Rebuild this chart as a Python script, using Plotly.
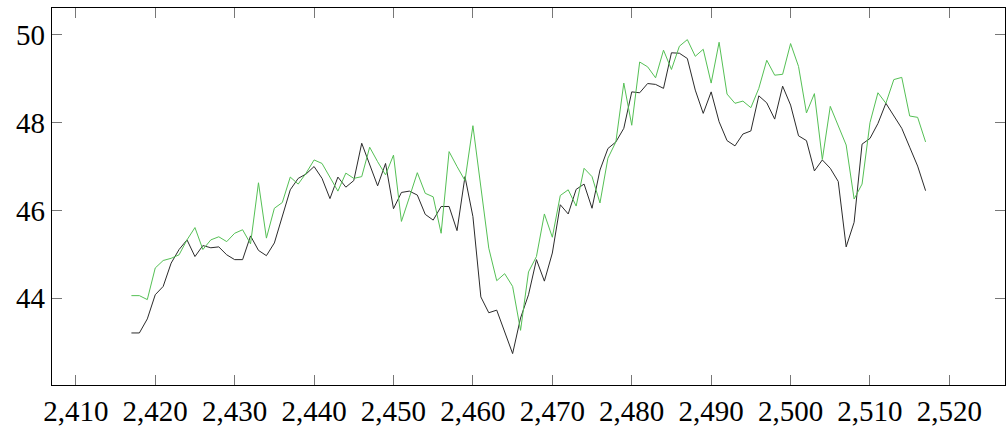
import plotly.graph_objects as go

x_vals = list(range(2417, 2518))

black_vals = [43.21, 43.21, 43.53, 44.08, 44.27, 44.80, 45.11, 45.33, 44.95, 45.20,
              45.15, 45.17, 44.99, 44.88, 44.88, 45.42, 45.09, 44.97, 45.26, 45.86,
              46.47, 46.73, 46.83, 47.00, 46.73, 46.27, 46.76, 46.53, 46.68, 47.53,
              47.05, 46.56, 47.07, 46.04, 46.41, 46.44, 46.35, 45.91, 45.78, 46.09,
              46.09, 45.54, 46.77, 45.86, 44.03, 43.67, 43.73, 43.24, 42.74, 43.55,
              44.08, 44.88, 44.39, 45.03, 46.13, 45.92, 46.48, 46.60, 46.05, 46.92,
              47.41, 47.56, 47.87, 48.70, 48.68, 48.89, 48.87, 48.78, 49.59, 49.58,
              49.46, 48.74, 48.21, 48.70, 48.02, 47.59, 47.47, 47.74, 47.81, 48.61,
              48.45, 48.08, 48.83, 48.40, 47.70, 47.59, 46.90, 47.15, 46.96, 46.66,
              45.17, 45.73, 47.51, 47.64, 47.98, 48.44, 48.17, 47.87, 47.44, 47.01,
              46.45]

green_vals = [44.06, 44.06, 43.97, 44.69, 44.86, 44.91, 44.99, 45.33, 45.61, 45.11,
              45.33, 45.40, 45.29, 45.48, 45.56, 45.24, 46.63, 45.37, 46.05, 46.18,
              46.76, 46.60, 46.85, 47.15, 47.07, 46.76, 46.44, 46.85, 46.73, 46.77,
              47.44, 47.11, 46.81, 47.26, 45.75, 46.30, 46.86, 46.39, 46.31, 45.48,
              47.34, 47.00, 46.68, 47.93, 46.50, 45.14, 44.40, 44.56, 44.27, 43.27,
              44.60, 44.95, 45.92, 45.39, 46.34, 46.47, 46.10, 46.96, 46.77, 46.17,
              47.19, 47.56, 48.90, 47.94, 49.38, 49.27, 49.02, 49.65, 49.21, 49.74,
              49.89, 49.51, 49.67, 48.90, 49.83, 48.65, 48.44, 48.49, 48.34, 48.78,
              49.42, 49.08, 49.10, 49.80, 49.28, 48.22, 48.66, 47.16, 48.37, 47.94,
              47.49, 46.26, 46.60, 48.00, 48.68, 48.44, 48.98, 49.03, 48.15, 48.12,
              47.56]

x_ticks = [2410, 2420, 2430, 2440, 2450, 2460, 2470, 2480, 2490, 2500, 2510, 2520]
x_tick_text = ["2,410", "2,420", "2,430", "2,440", "2,450", "2,460",
               "2,470", "2,480", "2,490", "2,500", "2,510", "2,520"]
y_ticks = [44, 46, 48, 50]

fig = go.Figure()
fig.add_trace(go.Scatter(x=x_vals, y=black_vals, mode="lines",
                         line=dict(color="#2b2b2b", width=1), showlegend=False))
fig.add_trace(go.Scatter(x=x_vals, y=green_vals, mode="lines",
                         line=dict(color="#55c055", width=1), showlegend=False))

axis_common = dict(showline=True, linecolor="black", linewidth=1.3, mirror="ticks",
                   ticks="inside", ticklen=10, tickwidth=1, tickcolor="#777777",
                   showgrid=False, zeroline=False,
                   tickfont=dict(family="Liberation Serif", size=29, color="black"))

fig.update_xaxes(range=[2407, 2527], tickvals=x_ticks, ticktext=x_tick_text, **axis_common)
fig.update_yaxes(range=[42.025, 50.61], tickvals=y_ticks, **axis_common)

fig.update_layout(width=1006, height=427, margin=dict(l=52, r=1, t=8, b=42),
                  plot_bgcolor="white", paper_bgcolor="white")

fig.write_html("out.html")
